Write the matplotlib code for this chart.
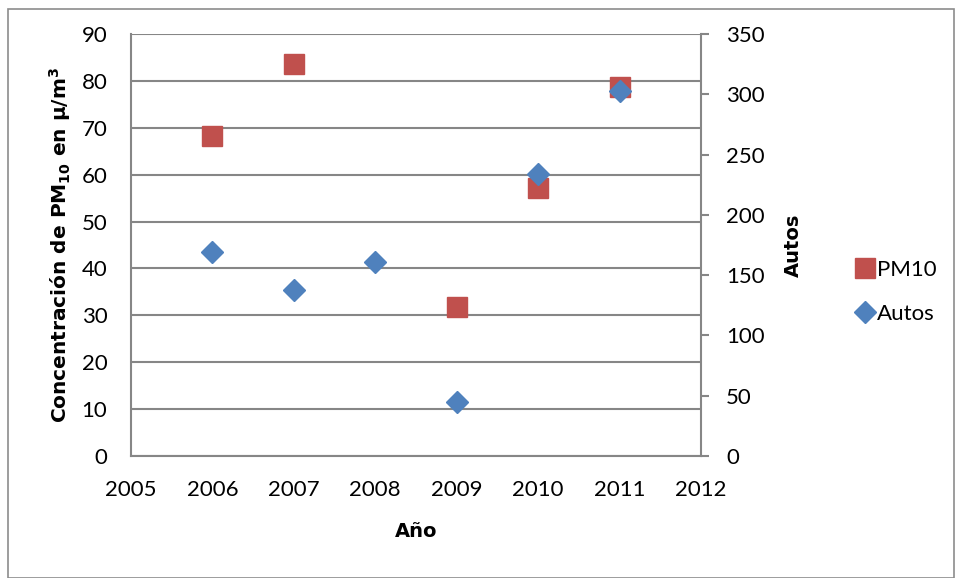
import matplotlib
matplotlib.use("Agg")
import matplotlib.pyplot as plt
from matplotlib.patches import Rectangle
from matplotlib.lines import Line2D

years_pm = [2006, 2007, 2009, 2010, 2011]
pm10 = [68.2, 83.7, 31.7, 57.1, 78.6]
years_autos = [2006, 2007, 2008, 2009, 2010, 2011]
autos = [169.5, 138, 160.7, 44.6, 234, 302.7]

xticks = list(range(2005, 2013))
yticks_left = list(range(0, 91, 10))
yticks_right = list(range(0, 351, 50))

RED = "#C0504D"
BLUE = "#4F81BD"
GRID = "#868686"

plt.rcParams['font.family'] = ['Lato', 'DejaVu Sans']
plt.rcParams['mathtext.fontset'] = 'dejavusans'

fig = plt.figure(figsize=(9.55, 5.78), dpi=100)
W, H = 955, 578
ax = fig.add_axes([131 / W, 1 - 456 / H, (701 - 131) / W, (456 - 34) / H])
ax2 = ax.twinx()

ax.set_xlim(2005, 2012)
ax.set_ylim(0, 90)
ax2.set_ylim(0, 350)
ax.set_xticks(xticks)
ax.set_yticks(yticks_left)
ax2.set_yticks(yticks_right)

ax.grid(axis='y', color=GRID, linewidth=1.5)
ax.set_axisbelow(True)
ax.spines['top'].set_visible(False)
ax2.spines['top'].set_visible(False)
ax.spines['left'].set_color(GRID)
ax.spines['bottom'].set_color(GRID)
ax.spines['left'].set_linewidth(1.5)
ax.spines['bottom'].set_linewidth(1.5)
ax2.spines['right'].set_color(GRID)
ax2.spines['right'].set_linewidth(1.5)
ax2.spines['left'].set_visible(False)
ax2.spines['bottom'].set_visible(False)
ax.spines['right'].set_visible(False)

ax.tick_params(axis='x', length=0, labelsize=16, pad=17)
ax.tick_params(axis='y', length=0, labelsize=16, pad=17)
ax2.tick_params(axis='y', length=6, width=1.5, color=GRID, labelsize=16, pad=12, direction='out')

ax.plot(years_pm, pm10, linestyle='none', marker='s', markersize=14, color=RED, label='PM10', zorder=3)
ax2.plot(years_autos, autos, linestyle='none', marker='D', markersize=11.5, color=BLUE, label='Autos', zorder=3)

lab_font = dict(family='DejaVu Sans', fontweight='bold')
ax.set_xlabel('Año', fontsize=14, labelpad=16, **lab_font)
ax.set_ylabel('Concentración de PM$_{\\mathbf{10}}$ en µ/m$^{\\mathbf{3}}$', fontsize=14.5, labelpad=6, **lab_font)
ax2.set_ylabel('Autos', fontsize=14, labelpad=14, **lab_font)

handles = [Line2D([], [], linestyle='none', marker='s', markersize=14, color=RED),
           Line2D([], [], linestyle='none', marker='D', markersize=11.5, color=BLUE)]
fig.legend(handles, ['PM10', 'Autos'], loc='center left', bbox_to_anchor=(836 / W, 1 - 292 / H),
           frameon=False, fontsize=16, handlelength=0.8, handletextpad=0.15, labelspacing=1.1)

fig.patches.append(Rectangle((8 / W, 0), 1 - 8 / W - 0.001, 1 - 9 / H, transform=fig.transFigure,
                             fill=False, edgecolor='#8c8c8c', linewidth=1.2))

fig.savefig('out.png', dpi=100)
